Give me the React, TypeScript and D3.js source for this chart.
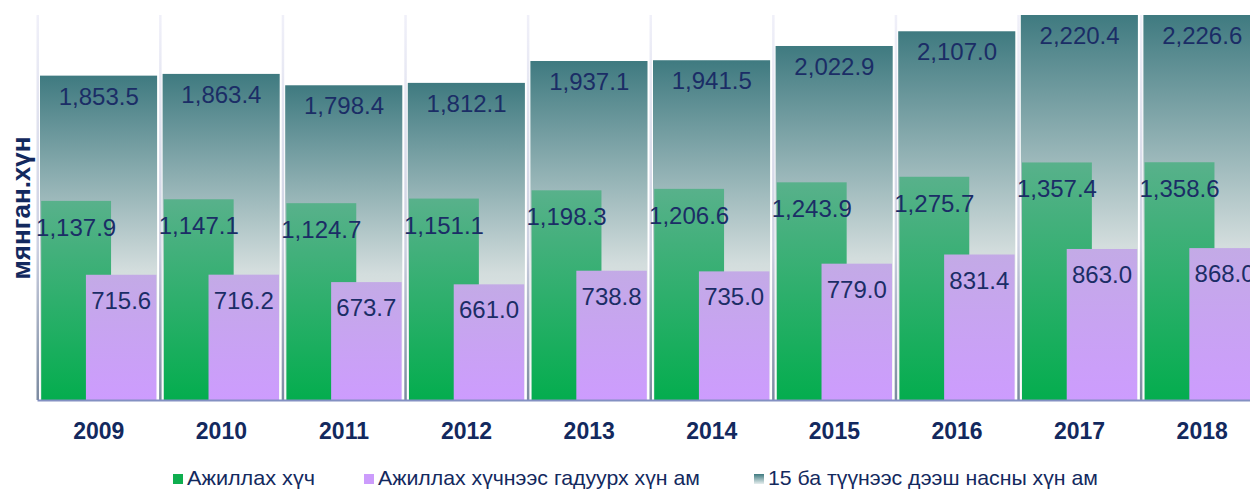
import React from 'react';
import * as d3 from 'd3';

const years = ['2009', '2010', '2011', '2012', '2013', '2014', '2015', '2016', '2017', '2018'];
const population15 = [1853.5, 1863.4, 1798.4, 1812.1, 1937.1, 1941.5, 2022.9, 2107.0, 2220.4, 2226.6];
const labourForce = [1137.9, 1147.1, 1124.7, 1151.1, 1198.3, 1206.6, 1243.9, 1275.7, 1357.4, 1358.6];
const outsideLabour = [715.6, 716.2, 673.7, 661.0, 738.8, 735.0, 779.0, 831.4, 863.0, 868.0];
const legendLabels = ['Ажиллах хүч', 'Ажиллах хүчнээс гадуурх хүн ам', '15 ба түүнээс дээш насны хүн ам'];

const width = 1250;
const height = 490;
const plotTop = 15;
const baseY = 400;
const left = 37.5;

const fmt = d3.format(',.1f');
const labelColor = '#1b2d66';

const App = () => {
  const x = d3.scaleBand().domain(years).range([left, left + 1226]).paddingInner(0);
  const y = d3.scaleLinear().domain([0, 2200]).range([baseY, plotTop]);
  const bw = x.bandwidth();
  const top = (v: number) => Math.max(y(v), plotTop);

  // legend: square x, text width
  const legendX = [173, 364, 754];
  const legendW = [128, 322, 330];

  return (
    <svg width={width} height={height} style={{ position: 'absolute', left: 0, top: 0, background: '#fff' }}
      fontFamily="'Liberation Sans', Arial, sans-serif">
      <defs>
        <linearGradient id="gTotal" x1="0" y1="0" x2="0" y2="1">
          <stop offset="0" stopColor="#3f7a80" />
          <stop offset="0.6" stopColor="#d3dddd" />
          <stop offset="1" stopColor="#f7f9f9" />
        </linearGradient>
        <linearGradient id="gGreen" x1="0" y1="0" x2="0" y2="1">
          <stop offset="0" stopColor="#58b18b" />
          <stop offset="1" stopColor="#04ad4e" />
        </linearGradient>
        <linearGradient id="gPurple" x1="0" y1="0" x2="0" y2="1">
          <stop offset="0" stopColor="#c3aae6" />
          <stop offset="1" stopColor="#cd9cfe" />
        </linearGradient>
        <linearGradient id="gGrid" x1="0" y1="0" x2="0" y2="1">
          <stop offset="0" stopColor="#f0f0f9" />
          <stop offset="0.6" stopColor="#cdd1e2" />
          <stop offset="1" stopColor="#7b8aa0" />
        </linearGradient>
        <linearGradient id="gLegend" x1="0" y1="0" x2="0" y2="1">
          <stop offset="0" stopColor="#3f7a80" />
          <stop offset="1" stopColor="#e6eeee" />
        </linearGradient>
      </defs>

      {years.map((yr) => (
        <rect key={'grid' + yr} x={(x(yr) as number) - 1} y={plotTop} width={2.5} height={baseY - plotTop}
          fill="url(#gGrid)" />
      ))}

      {years.map((yr, i) => {
        const x0 = x(yr) as number;
        const tt = top(population15[i]);
        const tg = top(labourForce[i]);
        const tp = top(outsideLabour[i]);
        return (
          <g key={yr}>
            <rect x={x0 + 2.5} y={tt} width={bw - 5.5} height={baseY - tt} fill="url(#gTotal)" />
            <rect x={x0 + bw * 0.03} y={tg} width={bw * 0.57} height={baseY - tg} fill="url(#gGreen)" />
            <rect x={x0 + bw * 0.395} y={tp} width={bw * 0.575} height={baseY - tp} fill="url(#gPurple)" />
            <text x={x0 + bw * 0.5} y={tt + 29} textAnchor="middle" fontSize={24} fill={labelColor}>
              {fmt(population15[i])}
            </text>
            <text x={x0 + bw * 0.03 + bw * 0.285} y={tg + 35} textAnchor="middle" fontSize={24} fill={labelColor}>
              {fmt(labourForce[i])}
            </text>
            <text x={x0 + bw * 0.395 + bw * 0.2875} y={tp + 34} textAnchor="middle" fontSize={24} fill={labelColor}>
              {fmt(outsideLabour[i])}
            </text>
            <text x={x0 + bw / 2} y={439} textAnchor="middle" fontSize={23} fontWeight="bold" fill="#13295e">
              {yr}
            </text>
          </g>
        );
      })}

      <line x1={left} x2={width} y1={baseY + 0.5} y2={baseY + 0.5} stroke="#8390c2" strokeWidth={2} />

      <text transform={`translate(30,208) rotate(-90)`} textAnchor="middle" fontSize={26} fontWeight="bold"
        fill="#13295e">мянган.хүн</text>

      {legendLabels.map((lab, i) => (
        <g key={lab}>
          <rect x={legendX[i]} y={474} width={10} height={10}
            fill={i === 0 ? '#0fae4f' : i === 1 ? '#cc9cfc' : 'url(#gLegend)'} />
          <text x={legendX[i] + 14} y={485} fontSize={21} fill="#13295e"
            textLength={legendW[i]} lengthAdjust="spacingAndGlyphs">{lab}</text>
        </g>
      ))}
    </svg>
  );
};

export default App;
